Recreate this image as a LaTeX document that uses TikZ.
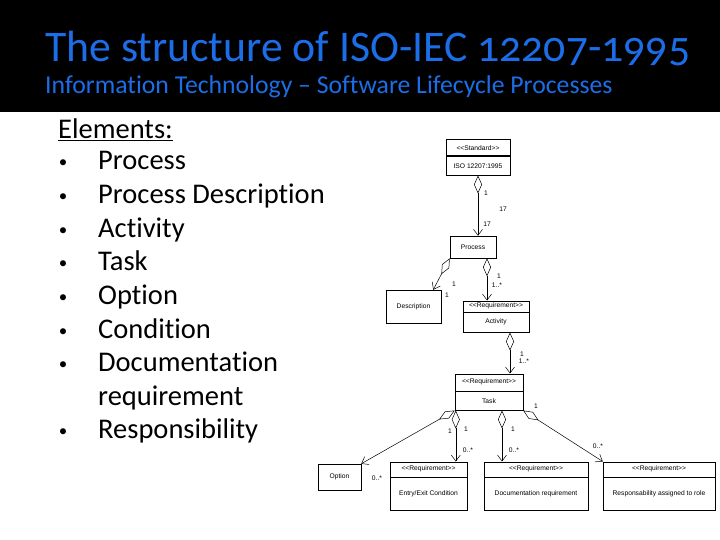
\documentclass[tikz,border=0pt]{standalone}
\usepackage{fontspec}
\setmainfont{Carlito}[Numbers=OldStyle,Ligatures={TeX,NoCommon}]
\newfontfamily\umlfont{Liberation Sans}
\usetikzlibrary{arrows.meta,calc,shadows}
\definecolor{titleblue}{RGB}{28,110,232}
\newcommand{\stereo}[1]{<\kern0pt<#1>\kern0pt>}

\begin{document}
\begin{tikzpicture}[x=1pt,y=-1pt,
    cls/.style={draw,line width=0.5pt,fill=white,inner sep=1pt,
      font=\umlfont\fontsize{6.7}{7}\selectfont,
      drop shadow={shadow xshift=1.2pt,shadow yshift=-1.2pt,opacity=1,fill=black}},
    agg/.style={draw,line width=0.5pt,
      arrows={Diamond[open,length=18pt,width=8pt]-Straight Barb[length=6pt,width=9pt]}},
    mult/.style={inner sep=0pt,font=\umlfont\fontsize{6.7}{7}\selectfont},
    item/.style={anchor=base west,inner sep=0pt,font=\fontsize{28.5}{34}\selectfont}]
    \useasboundingbox (0,0) rectangle (720,540);

    % header band
    \fill (0,0) rectangle (720,112);
    \node[anchor=base west,inner sep=0pt,text=titleblue,font=\fontsize{43.7}{52}\selectfont] (title) at (45,62) {The structure of ISO-IEC 12207-1995};
    \node[anchor=base west,inner sep=0pt,text=titleblue,font=\fontsize{25.7}{30}\selectfont] (subtitle) at (45,94) {Information Technology -- Software Lifecycle Processes};

    % element list
    \node[item] (head) at (58,139) {\underline{Elements:}};
    \foreach \y/\t [count=\i] in {170/Process,203.6/Process Description,237.2/Activity,270.8/Task,304.4/Option,338/Condition,371.6/Documentation,405.2/requirement,438.8/Responsibility}
        \node[item] (item\i) at (98,\y) {\t};
    \foreach \y [count=\i] in {170,203.6,237.2,270.8,304.4,338,371.6,438.8}
        \node[anchor=base,inner sep=0pt,font=\fontsize{17}{20}\selectfont] (dot\i) at (63,\y-2) {\textbullet};

    % classes
    \node[cls,minimum width=64,minimum height=16,anchor=south] (stdst) at (478,156) {\stereo{Standard}};
    \node[cls,minimum width=64,minimum height=19,anchor=north] (std) at (stdst.south) {ISO 12207:1995};
    \node[cls,minimum width=46,minimum height=22] (proc) at (473,247) {Process};
    \node[cls,minimum width=55,minimum height=33] (desc) at (413.5,306.5) {Description};
    \node[cls,minimum width=66,minimum height=11,anchor=south] (actst) at (496,312) {\stereo{Requirement}};
    \node[cls,minimum width=66,minimum height=20,anchor=north] (act) at (actst.south) {Activity};
    \node[cls,minimum width=68,minimum height=17,anchor=south] (taskst) at (489,391) {\stereo{Requirement}};
    \node[cls,minimum width=68,minimum height=19,anchor=north] (task) at (taskst.south) {Task};
    \node[cls,minimum width=43,minimum height=26] (opt) at (339.5,477) {Option};
    \node[cls,minimum width=77,minimum height=15,anchor=south] (entryst) at (428.5,477) {\stereo{Requirement}};
    \node[cls,minimum width=77,minimum height=33,anchor=north] (entry) at (entryst.south) {Entry/Exit Condition};
    \node[cls,minimum width=104,minimum height=15,anchor=south] (docst) at (536,477) {\stereo{Requirement}};
    \node[cls,minimum width=104,minimum height=33,anchor=north] (doc) at (docst.south) {Documentation requirement};
    \node[cls,minimum width=112,minimum height=15,anchor=south] (respst) at (659,477) {\stereo{Requirement}};
    \node[cls,minimum width=112,minimum height=33,anchor=north] (resp) at (respst.south) {Responsability assigned to role};

    % aggregations
    \draw[agg] (std.south) -- (std.south |- proc.north);
    \draw[agg] (proc.south west) -- ($(desc.north east)+(-8,0)$);
    \coordinate (pa) at ($(proc.south)+(14,0)$);
    \draw[agg] (pa) -- (pa |- actst.north);
    \coordinate (at) at ($(act.south)+(14,0)$);
    \draw[agg] (at) -- (at |- taskst.north);
    \draw[agg] (task.south west) -- (opt.north east);
    \coordinate (te) at ($(task.south west)+(1,0)$);
    \draw[agg] (te) -- (te |- entryst.north);
    \coordinate (td) at ($(task.south)+(13,0)$);
    \draw[agg] (td) -- (td |- docst.north);
    \draw[agg] (task.south east) -- (respst.north west);

    % multiplicities
    \foreach \x/\y/\t [count=\i] in {486/193/1,503/209/17,487/224/17,454/284/1,447/295/1,499/276/1,497/285/{1..*},522/354/1,524/361/{1..*},536/406/1,450/431/1,466/429/1,513/429/1,468/450/{0..*},514/450/{0..*},598/446/{0..*},377/478/{0..*}}
        \node[mult] (m\i) at (\x,\y) {\t};
\end{tikzpicture}
\end{document}
